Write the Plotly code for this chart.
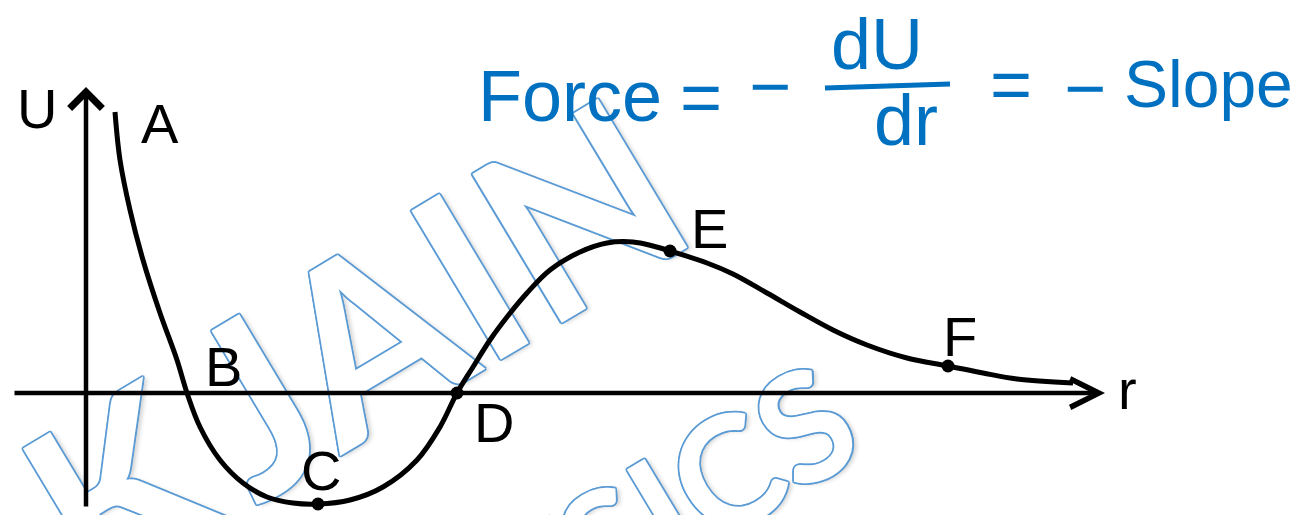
import plotly.graph_objects as go

W, H = 1314, 515
OFF = 8  # page body margin offset (screen px -> figure px)

# ---- data ----
r_vals = [0.29, 0.34, 0.44, 0.57, 0.74, 0.91, 1.01, 1.14, 1.34, 1.57, 1.81, 2.07, 2.32,
          2.64, 2.97, 3.31, 3.54, 3.71, 3.87, 4.04, 4.21, 4.41, 4.64, 4.94, 5.21, 5.47,
          5.67, 5.84, 6.21, 6.47, 6.81, 7.14, 7.47, 7.81, 8.21, 8.62, 8.97, 9.31, 9.87]
u_vals = [2.81, 2.33, 1.83, 1.33, 0.80, 0.33, 0.00, -0.34, -0.67, -0.90, -1.04, -1.10, -1.11,
          -1.07, -0.94, -0.67, -0.34, 0.00, 0.26, 0.53, 0.76, 1.00, 1.23, 1.41, 1.50, 1.51,
          1.47, 1.42, 1.30, 1.19, 1.00, 0.81, 0.63, 0.48, 0.35, 0.27, 0.20, 0.14, 0.10]

dot_names = ["C", "D", "E", "F"]
dot_r = [2.32, 3.71, 5.84, 8.62]
dot_u = [-1.11, 0.00, 1.42, 0.27]

label_text = ["U", "A", "B", "C", "D", "E", "F", "r"]
label_r = [-0.49, 0.74, 1.37, 2.35, 4.08, 6.23, 8.74, 10.41]
label_u = [2.85, 2.70, 0.27, -0.77, -0.29, 1.65, 0.57, 0.04]

axis_r = [-0.73, 10.19]
axis_u = [-1.15, 3.06]

# origin of the axes in screen pixels, 100 px per unit
X0, Y0 = 86 - OFF, 393 - OFF

# ---- figure ----
fig = go.Figure()

fig.add_trace(go.Scatter(
    x=r_vals, y=u_vals, mode="lines",
    line=dict(color="black", width=5, shape="spline", smoothing=1.0),
    hoverinfo="skip"))

fig.add_trace(go.Scatter(
    x=dot_r, y=dot_u, mode="markers", text=dot_names,
    marker=dict(color="black", size=13),
    hoverinfo="skip"))

ann = []
# axes with arrowheads
ann.append(dict(x=axis_r[1], y=0, ax=axis_r[0], ay=0, xref="x", yref="y",
                axref="x", ayref="y", text="", showarrow=True, arrowhead=5,
                arrowwidth=4.5, arrowsize=1.25, arrowcolor="black", standoff=0))
ann.append(dict(x=0, y=axis_u[1], ax=0, ay=axis_u[0], xref="x", yref="y",
                axref="x", ayref="y", text="", showarrow=True, arrowhead=4,
                arrowwidth=4.5, arrowsize=1.4, arrowcolor="black", standoff=0))

for t, xr, yu in zip(label_text, label_r, label_u):
    ann.append(dict(x=xr, y=yu, xref="x", yref="y", text=t, showarrow=False,
                    xanchor="center", yanchor="middle",
                    font=dict(family="Liberation Sans, Arial", size=56, color="black")))

# handwritten formula (blue)
blue = "#0070C0"
def ptext(t, px, py, size=72):
    return dict(x=(px - OFF) / W, y=1 - (py - OFF) / H, xref="paper", yref="paper", text=t,
                showarrow=False, xanchor="center", yanchor="middle",
                font=dict(family="Liberation Sans, Arial", size=size, color=blue))

ann += [
    ptext("Force", 570, 96),
    ptext("=", 701, 97),
    ptext("\u2212", 770, 86),
    ptext("dU", 877, 44),
    ptext("dr", 906, 120),
    ptext("=", 1011, 84),
    ptext("\u2212", 1085, 88),
    ptext("Slope", 1208, 84, 66),
]

shapes = [
    dict(type="line", xref="paper", yref="paper",
         x0=(825 - OFF) / W, y0=1 - (88 - OFF) / H, x1=(950 - OFF) / W, y1=1 - (84 - OFF) / H,
         line=dict(color=blue, width=5)),
]

# watermark (outlined text, drawn below the curve)
wm_blue = "#5B9BD5"
shadow = ("1.8px 0 0 {c}, -1.8px 0 0 {c}, 0 1.8px 0 {c}, 0 -1.8px 0 {c}, "
          "1.3px 1.3px 0 {c}, -1.3px -1.3px 0 {c}, 1.3px -1.3px 0 {c}, -1.3px 1.3px 0 {c}, "
          "3px 3px 4px rgba(0,0,0,0.18)").format(c=wm_blue)

def wm(text, px, py, size):
    cx, cy = (px - OFF) / W, 1 - (py - OFF) / H
    return dict(type="rect", xref="paper", yref="paper",
                x0=cx - 0.001, x1=cx + 0.001, y0=cy - 0.001, y1=cy + 0.001,
                line=dict(width=0, color="rgba(0,0,0,0)"), fillcolor="rgba(0,0,0,0)",
                layer="below",
                label=dict(text=text, textangle=-31, textposition="middle center",
                           font=dict(family="Lato", size=size, weight=700,
                                     color="white", shadow=shadow)))

shapes += [
    wm("JAIN", 430, 290, 240),
    wm("AK", 45, 524, 235),
    wm("PHYSICS", 573, 559, 152),
]

fig.update_layout(
    width=W, height=H,
    margin=dict(l=0, r=0, t=0, b=0),
    paper_bgcolor="white", plot_bgcolor="white",
    showlegend=False,
    xaxis=dict(range=[-X0 / 100, (W - X0) / 100], visible=False, fixedrange=True),
    yaxis=dict(range=[-(H - Y0) / 100, Y0 / 100], visible=False, fixedrange=True),
    annotations=ann,
    shapes=shapes,
)

fig.write_html("out.html")
